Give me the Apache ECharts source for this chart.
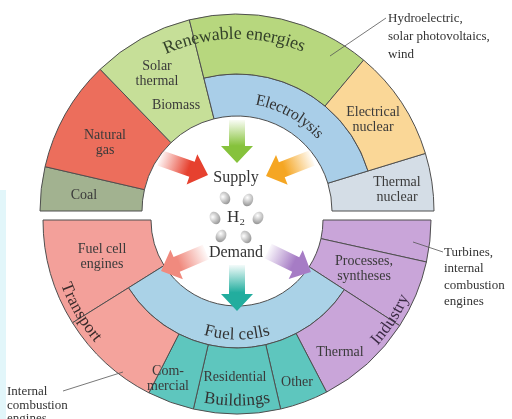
<!DOCTYPE html>
<html>
<head>
<meta charset="utf-8">
<title>Hydrogen supply and demand</title>
<script src="https://cdn.jsdelivr.net/npm/echarts@6.0.0/dist/echarts.min.js"></script>
<style>
  html, body { margin: 0; padding: 0; background: #fff; }
  #h2Chart { width: 512px; height: 419px; }
</style>
</head>
<body>
<div id="h2Chart"></div>
<script>
// supply half, read clockwise from 9 o'clock, spans in degrees
const supplyFullNames = ['Coal', 'Natural gas', 'Solar thermal, Biomass', '', 'Thermal nuclear'];
const supplyFullSpans = [13, 33, 30, 87, 17];
const supplyInnerNames = ['', 'Electrolysis', ''];
const supplyInnerSpans = [76, 87, 17];
const supplyOuterNames = ['', 'Hydroelectric, solar photovoltaics, wind', 'Electrical nuclear', ''];
const supplyOuterSpans = [76, 54, 33, 17];

// demand half, read clockwise from 3 o'clock
const demandFullNames = ['Turbines, internal combustion engines', 'Processes, syntheses', '', 'Fuel cell engines'];
const demandFullSpans = [12.5, 20.5, 115, 32];
const demandInnerNames = ['', 'Fuel cells', ''];
const demandInnerSpans = [33, 115, 32];
const demandOuterNames = ['', 'Thermal', 'Other', 'Residential', 'Commercial', 'Internal combustion engines', ''];
const demandOuterSpans = [33, 29.5, 14.5, 26, 14, 31, 32];

const colors = {
  'Coal': '#a2b290',
  'Natural gas': '#ec6e5c',
  'Solar thermal, Biomass': '#c6df98',
  'Electrolysis': '#a9cee8',
  'Hydroelectric, solar photovoltaics, wind': '#b7d77e',
  'Electrical nuclear': '#fad797',
  'Thermal nuclear': '#d4dde6',
  'Turbines, internal combustion engines': '#c9a5d9',
  'Processes, syntheses': '#c9a5d9',
  'Thermal': '#c9a5d9',
  'Fuel cells': '#aad2e7',
  'Other': '#5ec6be',
  'Residential': '#5ec6be',
  'Commercial': '#5ec6be',
  'Internal combustion engines': '#f4a39c',
  'Fuel cell engines': '#f3a09a'
};

const SERIF = "'Liberation Serif', 'DejaVu Serif', serif";
const supplyCenter = [237, 211];
const demandCenter = [237, 220];

function ring(center, radius, startAngle, names, spans) {
  let data = names.map(function(n, i) {
    return {
      name: n || 'gap' + i,
      value: spans[i],
      itemStyle: n
        ? { color: colors[n], borderColor: '#4f4f4f', borderWidth: 1 }
        : { color: 'rgba(0,0,0,0)', borderWidth: 0 }
    };
  });
  // the other half of the circle stays empty
  data.push({ name: 'rest', value: 180, itemStyle: { color: 'rgba(0,0,0,0)', borderWidth: 0 } });
  return {
    type: 'pie',
    center: center,
    radius: radius,
    startAngle: startAngle,
    clockwise: true,
    silent: true,
    animation: false,
    avoidLabelOverlap: false,
    label: { show: false },
    labelLine: { show: false },
    emphasis: { disabled: true },
    data: data
  };
}

// labels written straight
const flatLabels = [
  ['Solar\nthermal', 157, 74],
  ['Biomass', 176, 105],
  ['Natural\ngas', 105, 143],
  ['Coal', 84, 195],
  ['Electrical\nnuclear', 373, 120],
  ['Thermal\nnuclear', 397, 190],
  ['Fuel cell\nengines', 102, 257],
  ['Com-\nmercial', 168, 379],
  ['Residential', 235, 377],
  ['Other', 297, 382],
  ['Processes,\nsyntheses', 364, 269],
  ['Thermal', 340, 352]
];

// labels bent along the rings
const arcLabels = [
  { text: 'Renewable energies', c: supplyCenter, r: 177, a: 91, size: 18, out: true, fill: '#34422a' },
  { text: 'Electrolysis', c: supplyCenter, r: 112, a: 61, size: 16, out: true, fill: '#333' },
  { text: 'Fuel cells', c: demandCenter, r: 115, a: 270, size: 17, out: false, fill: '#333' },
  { text: 'Buildings', c: demandCenter, r: 181, a: 270, size: 17, out: false, fill: '#333' },
  { text: 'Transport', c: demandCenter, r: 183, a: 210.5, size: 17, out: false, fill: '#3a2a2a' },
  { text: 'Industry', c: demandCenter, r: 184, a: -33, size: 17, out: false, fill: '#3a2a44' }
];

const measure = document.createElement('canvas').getContext('2d');

function arcText(item) {
  let font = item.size + 'px ' + SERIF;
  measure.font = font;
  let chars = Array.from(item.text);
  let widths = chars.map(function(ch) { return measure.measureText(ch).width; });
  let total = widths.reduce(function(a, b) { return a + b; }, 0);
  let s = 0;
  return chars.map(function(ch, i) {
    let mid = s + widths[i] / 2;
    s += widths[i];
    let off = (mid - total / 2) / item.r;
    let theta = item.a * Math.PI / 180 + (item.out ? -off : off);
    return {
      type: 'text',
      z: 20,
      silent: true,
      x: item.c[0] + item.r * Math.cos(theta),
      y: item.c[1] - item.r * Math.sin(theta),
      rotation: item.out ? theta - Math.PI / 2 : theta + Math.PI / 2,
      style: { text: ch, font: font, fill: item.fill, align: 'center', verticalAlign: 'middle' }
    };
  });
}

// arrows in the middle: tail, tip, pale colour, full colour
const arrows = [
  [[237, 120], [237, 163], 'rgba(140,198,63,0.05)', '#86c23c'],
  [[160, 158], [208, 175], 'rgba(232,64,47,0.05)', '#e6412f'],
  [[312, 158], [266, 176], 'rgba(245,166,35,0.05)', '#f5a623'],
  [[206, 252], [161, 271], 'rgba(240,138,126,0.05)', '#f08a7e'],
  [[268, 251], [311, 272], 'rgba(166,124,197,0.05)', '#a67cc5'],
  [[237, 265], [237, 311], 'rgba(34,176,160,0.05)', '#22ad9e']
];

function arrowShape(a) {
  let fx = a[0][0], fy = a[0][1], tx = a[1][0], ty = a[1][1];
  let len = Math.hypot(tx - fx, ty - fy);
  let dx = (tx - fx) / len, dy = (ty - fy) / len;
  let nx = -dy, ny = dx;
  let w1 = 8, w2 = 16, h = 17;
  let bx = tx - dx * h, by = ty - dy * h;
  return {
    type: 'polygon',
    z: 15,
    silent: true,
    shape: {
      points: [
        [fx + nx * w1, fy + ny * w1],
        [bx + nx * w1, by + ny * w1],
        [bx + nx * w2, by + ny * w2],
        [tx, ty],
        [bx - nx * w2, by - ny * w2],
        [bx - nx * w1, by - ny * w1],
        [fx - nx * w1, fy - ny * w1]
      ]
    },
    style: {
      fill: new echarts.graphic.LinearGradient(fx, fy, tx, ty, [
        { offset: 0, color: a[2] },
        { offset: 0.6, color: a[3] },
        { offset: 1, color: a[3] }
      ], true)
    }
  };
}

// hydrogen molecules round the H2 label
const molecules = [[225, 198, 0.4], [248, 200, -0.4], [215, 218, 0.5], [258, 218, -0.5], [221, 236, -0.5], [246, 237, 0.5]];

let graphics = [
  { type: 'rect', z: 1, silent: true, shape: { x: 0, y: 190, width: 6, height: 229 }, style: { fill: '#e2f6fa' } }
];

flatLabels.forEach(function(l) {
  graphics.push({
    type: 'text', z: 20, silent: true, x: l[1], y: l[2],
    style: { text: l[0], font: '14px ' + SERIF, fill: '#3a3a3a', align: 'center', verticalAlign: 'middle', lineHeight: 15 }
  });
});
arcLabels.forEach(function(item) { graphics = graphics.concat(arcText(item)); });
arrows.forEach(function(a) { graphics.push(arrowShape(a)); });
molecules.forEach(function(m) {
  graphics.push({
    type: 'ellipse', z: 16, silent: true, x: m[0], y: m[1], rotation: m[2],
    shape: { cx: 0, cy: 0, rx: 5, ry: 6.5 },
    style: {
      fill: new echarts.graphic.RadialGradient(0.35, 0.35, 0.8, [
        { offset: 0, color: '#ffffff' },
        { offset: 1, color: '#9a9a9a' }
      ])
    }
  });
});

// centre words
graphics.push(
  { type: 'text', z: 20, silent: true, x: 236, y: 178, style: { text: 'Supply', font: '16px ' + SERIF, fill: '#333', align: 'center', verticalAlign: 'middle' } },
  { type: 'text', z: 20, silent: true, x: 236, y: 218, style: { text: 'H₂', font: '17px ' + SERIF, fill: '#333', align: 'center', verticalAlign: 'middle' } },
  { type: 'text', z: 20, silent: true, x: 236, y: 253, style: { text: 'Demand', font: '16px ' + SERIF, fill: '#333', align: 'center', verticalAlign: 'middle' } }
);

// notes outside the circle with their leader lines
const notes = [
  ['Hydroelectric,\nsolar photovoltaics,\nwind', 388, 10, 18, [[386, 18], [330, 56]]],
  ['Turbines,\ninternal\ncombustion\nengines', 444, 244, 16.5, [[443, 252], [413, 242]]],
  ['Internal\ncombustion\nengines', 7, 385, 13.5, [[63, 391], [123, 372]]]
];
notes.forEach(function(n) {
  graphics.push({
    type: 'text', z: 20, silent: true, x: n[1], y: n[2],
    style: { text: n[0], font: '13px ' + SERIF, fill: '#333', align: 'left', verticalAlign: 'top', lineHeight: n[3] }
  });
  graphics.push({
    type: 'polyline', z: 20, silent: true,
    shape: { points: n[4] },
    style: { stroke: '#555', lineWidth: 0.8, fill: null }
  });
});

let h2Chart = echarts.init(document.getElementById('h2Chart'));
h2Chart.setOption({
  backgroundColor: '#fff',
  animation: false,
  series: [
    ring(supplyCenter, [95, 197], 180, supplyFullNames, supplyFullSpans),
    ring(supplyCenter, [95, 137], 180, supplyInnerNames, supplyInnerSpans),
    ring(supplyCenter, [137, 197], 180, supplyOuterNames, supplyOuterSpans),
    ring(demandCenter, [86, 194], 0, demandFullNames, demandFullSpans),
    ring(demandCenter, [86, 128], 0, demandInnerNames, demandInnerSpans),
    ring(demandCenter, [128, 194], 0, demandOuterNames, demandOuterSpans)
  ],
  graphic: { elements: graphics }
});
window.addEventListener('resize', function() { h2Chart.resize(); });
</script>
</body>
</html>
